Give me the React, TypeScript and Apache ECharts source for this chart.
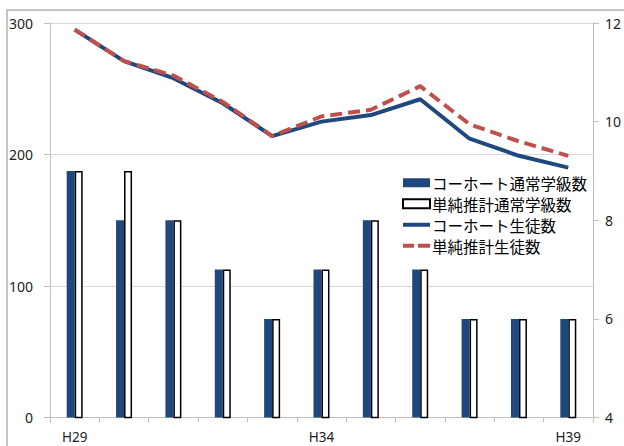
import React, { useEffect, useRef } from "react";
import * as echarts from "echarts";

const categories = ["H29", "H30", "H31", "H32", "H33", "H34", "H35", "H36", "H37", "H38", "H39"];
const cohortClasses = [9, 8, 8, 7, 6, 7, 8, 7, 6, 6, 6];
const simpleClasses = [9, 9, 8, 7, 6, 7, 8, 7, 6, 6, 6];
const cohortStudents = [295, 271, 258, 239, 214, 225, 230, 242, 212, 199, 190];
const simpleStudents = [295, 271, 260, 240, 214, 229, 234, 252, 223, 210, 199];

const BLUE = "#1f497d";
const RED = "#c0504d";
const NUM_FONT = "'Noto Sans', 'Open Sans', sans-serif";
const JP_FONT = "'Noto Sans CJK JP', sans-serif";

export default function App() {
  const ref = useRef<HTMLDivElement>(null);
  useEffect(() => {
    if (!ref.current) return;
    const chart = echarts.init(ref.current, undefined, { renderer: "svg" });
    chart.setOption({
      animation: false,
      backgroundColor: "#ffffff",
      graphic: [
        {
          type: "rect",
          shape: { x: 7, y: 10, width: 800, height: 600 },
          style: { fill: "none", stroke: "#b3b3b3", lineWidth: 1.5 },
          silent: true,
          z: 0,
        },
      ],
      grid: { left: 50, right: 24, top: 23, bottom: 28.5, containLabel: false },
      legend: {
        orient: "vertical",
        left: 402,
        top: 175,
        itemWidth: 27,
        itemHeight: 9,
        itemGap: 5.5,
        padding: 0,
        symbolKeepAspect: true,
        textStyle: { fontFamily: JP_FONT, fontSize: 15.5, color: "#000", lineHeight: 15, padding: [0, 0, 0, -3] },
        data: [
          { name: "コーホート通常学級数", icon: "rect" },
          { name: "単純推計通常学級数", icon: "rect" },
          { name: "コーホート生徒数", icon: "path://M0,0 H27 V4 H0 Z" },
          { name: "単純推計生徒数", icon: "path://M0,0 H11 V4 H0 Z M15,0 H27 V4 H15 Z" },
        ],
      },
      xAxis: {
        type: "category",
        data: categories,
        boundaryGap: true,
        axisLine: { lineStyle: { color: "#bfbfbf", width: 1 } },
        axisTick: { show: true, interval: 0, length: 5, lineStyle: { color: "#bfbfbf" } },
        axisLabel: { interval: 4, margin: 12, fontFamily: NUM_FONT, fontSize: 13.5, color: "#222" },
        splitLine: { show: false },
      },
      yAxis: [
        {
          type: "value",
          min: 0,
          max: 300,
          interval: 100,
          position: "left",
          axisLine: { show: true, lineStyle: { color: "#bfbfbf", width: 1 } },
          axisTick: { show: true, length: 6, lineStyle: { color: "#bfbfbf" } },
          axisLabel: { margin: 17, fontFamily: NUM_FONT, fontSize: 14, color: "#222" },
          splitLine: { show: true, lineStyle: { color: "#d9d9d9", width: 1 } },
        },
        {
          type: "value",
          min: 4,
          max: 12,
          interval: 2,
          position: "right",
          axisLine: { show: true, lineStyle: { color: "#bfbfbf", width: 1 } },
          axisTick: { show: true, length: 6, lineStyle: { color: "#bfbfbf" } },
          axisLabel: { margin: 12, fontFamily: NUM_FONT, fontSize: 14, color: "#222" },
          splitLine: { show: false },
        },
      ],
      series: [
        {
          name: "コーホート通常学級数",
          type: "bar",
          yAxisIndex: 1,
          data: cohortClasses,
          barWidth: 8,
          barGap: "0%",
          itemStyle: { color: BLUE },
          z: 2,
        },
        {
          name: "単純推計通常学級数",
          type: "bar",
          yAxisIndex: 1,
          data: simpleClasses,
          barWidth: 8,
          barGap: "0%",
          itemStyle: { color: "#ffffff", borderColor: "#000000", borderWidth: 1.5 },
          z: 2,
        },
        {
          name: "コーホート生徒数",
          type: "line",
          yAxisIndex: 0,
          data: cohortStudents,
          symbol: "none",
          lineStyle: { color: BLUE, width: 4 },
          itemStyle: { color: BLUE },
          z: 3,
        },
        {
          name: "単純推計生徒数",
          type: "line",
          yAxisIndex: 0,
          data: simpleStudents,
          symbol: "none",
          lineStyle: { color: RED, width: 4, type: [12, 6] },
          itemStyle: { color: RED },
          z: 4,
        },
      ],
    });
    return () => chart.dispose();
  }, []);
  return (
    <div
      ref={ref}
      style={{ position: "fixed", left: 0, top: 0, width: 624, height: 446 }}
    />
  );
}
